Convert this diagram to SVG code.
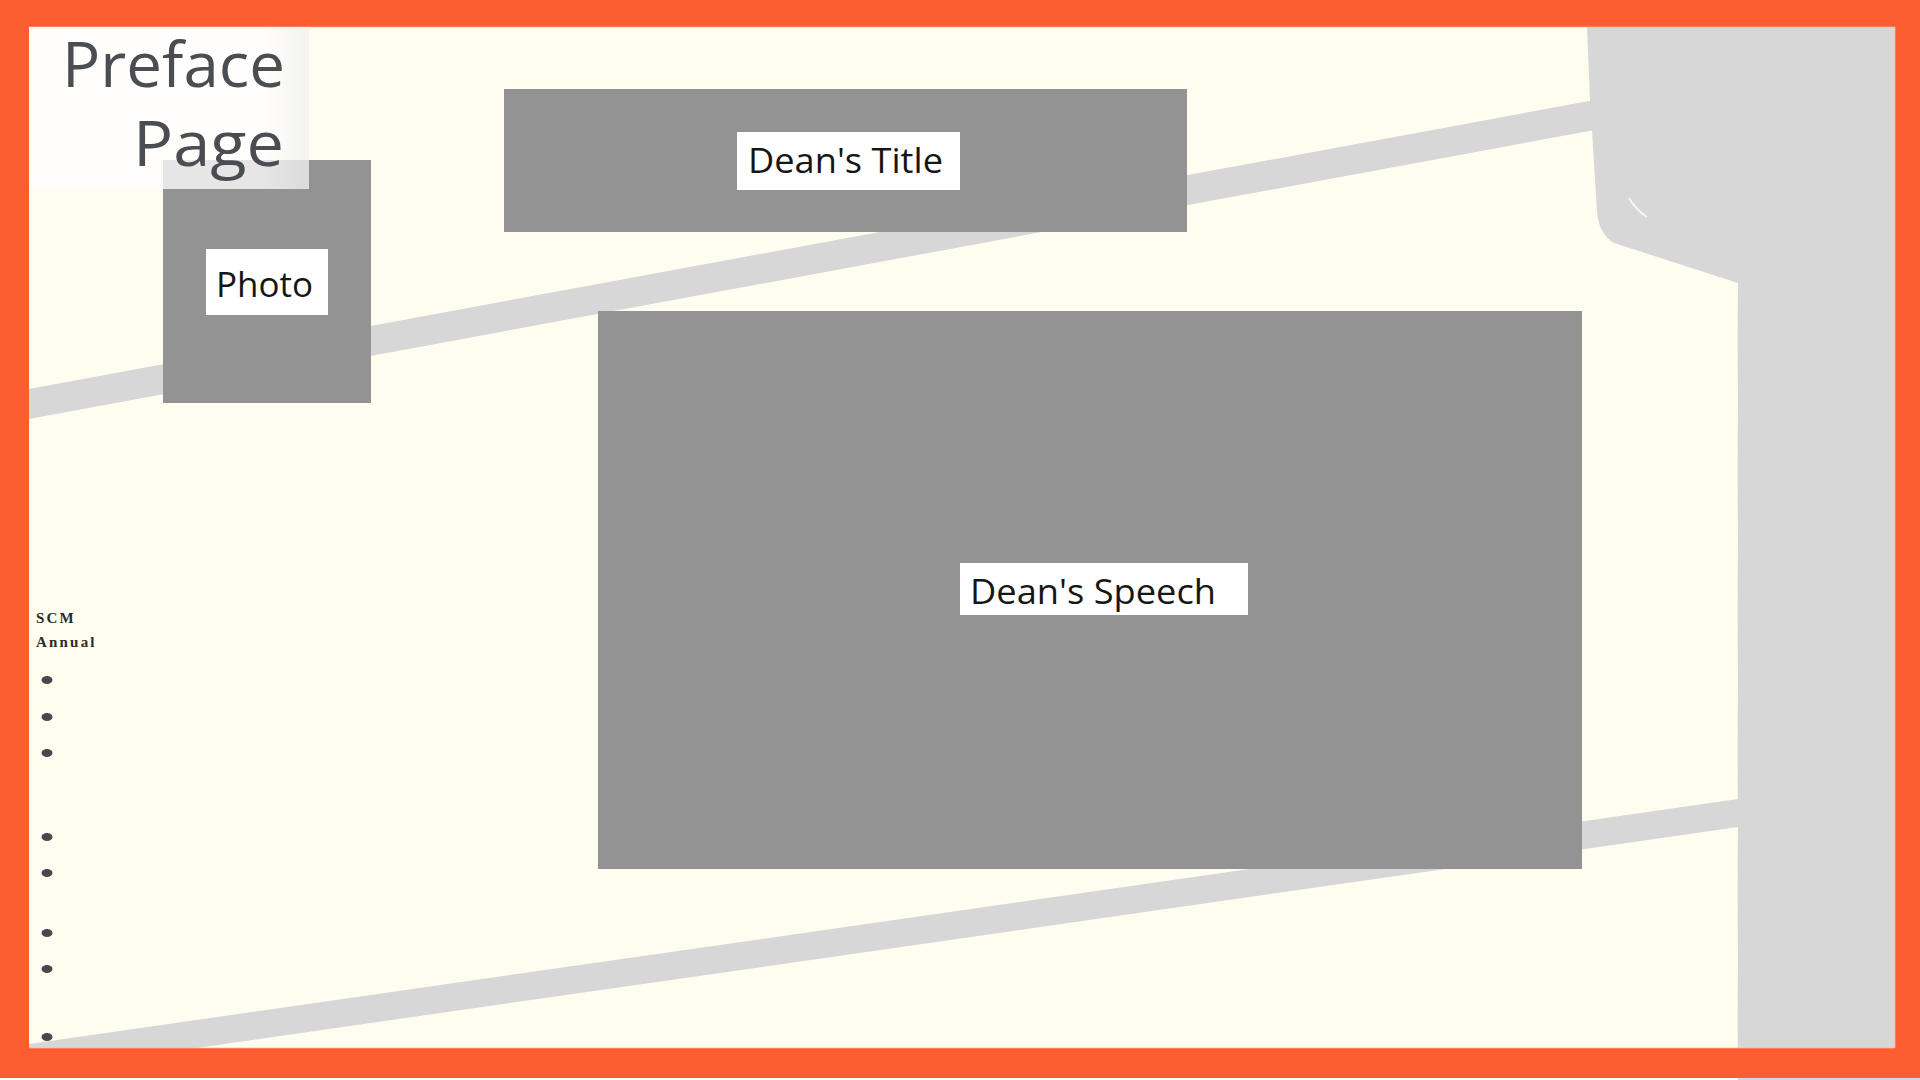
<svg xmlns="http://www.w3.org/2000/svg" width="1920" height="1080" viewBox="0 0 1920 1080">
  <defs>
    <linearGradient id="prefGrad" x1="0" y1="0" x2="1" y2="0">
      <stop offset="0" stop-color="#ffffff"/>
      <stop offset="0.82" stop-color="#ffffff"/>
      <stop offset="1" stop-color="#f1f1f1"/>
    </linearGradient>
  </defs>
  <style>
    .box { fill: #939393; }
    .label-bg { fill: #ffffff; }
    .label { font-family: "Open Sans", "Noto Sans", "Liberation Sans", sans-serif; font-size: 35px; fill: #161616; }
    .title { font-family: "Open Sans", "Noto Sans", "Liberation Sans", sans-serif; font-size: 63px; fill: #4a4e53; }
    .shadow { fill: #d7d7d7; }
    .bullet { fill: #46484b; }
    .scm { font-family: "Liberation Serif", "DejaVu Serif", serif; font-size: 15px; font-weight: bold; letter-spacing: 2.2px; fill: #2b2b2b; }
  </style>

  <!-- background -->
  <rect x="0" y="0" width="1920" height="1080" fill="#fffcf0"/>

  <!-- shadow bands -->
  <g id="shadows">
    <polygon class="shadow" points="29,389 1600,99 1600,129 29,419"/>
    <polygon class="shadow" points="29,1044 1745,798 1745,826 29,1072"/>
    <path class="shadow" d="M1587,27 L1590,100 L1592,130 L1597,212 Q1599,234 1614,243 L1738,283 Q1737.3,340 1738,400 Q1737.3,470 1738,540 Q1737.3,610 1738,680 Q1737.3,750 1738,820 Q1737.3,890 1738,960 Q1737.3,1020 1738,1080 L1920,1080 L1920,27 Z"/>
    <path d="M1629,198 Q1636,210 1647,217" fill="none" stroke="#ffffff" stroke-width="2" opacity="0.8"/>
  </g>

  <!-- frame -->
  <g id="frame">
    <path fill="#fb5d31" fill-rule="evenodd" d="M0,0 H1920 V1078 H0 Z M29,27 V1048 H1895 V27 Z"/>
    <rect x="0" y="1078" width="1738" height="2" fill="#ffffff"/>
    <rect x="29" y="26.5" width="1866" height="1" fill="#f7b8a3" opacity="0.7"/>
    <rect x="1894.5" y="27" width="1" height="1021" fill="#f7b8a3" opacity="0.7"/>
    <rect x="29" y="1047.5" width="1866" height="1" fill="#f7b8a3" opacity="0.7"/>
  </g>

  <!-- Photo -->
  <g id="node-photo">
    <rect class="box" x="163" y="160" width="208" height="243"/>
    <rect class="label-bg" x="206" y="249" width="122" height="66"/>
    <text class="label" x="216" y="297" textLength="97" lengthAdjust="spacingAndGlyphs">Photo</text>
  </g>

  <!-- Preface Page -->
  <g id="node-preface">
    <rect x="29" y="27" width="280" height="162" fill="url(#prefGrad)" opacity="0.77"/>
    <text class="title" x="285" y="87" text-anchor="end" textLength="223" lengthAdjust="spacingAndGlyphs">Preface</text>
    <text class="title" x="284" y="166" text-anchor="end" textLength="151" lengthAdjust="spacingAndGlyphs">Page</text>
  </g>

  <!-- Dean's Title -->
  <g id="node-deans-title">
    <rect class="box" x="504" y="89" width="683" height="143"/>
    <rect class="label-bg" x="737" y="132" width="223" height="58"/>
    <text class="label" x="748" y="173" textLength="195" lengthAdjust="spacingAndGlyphs">Dean's Title</text>
  </g>

  <!-- Dean's Speech -->
  <g id="node-deans-speech">
    <rect class="box" x="598" y="311" width="984" height="558"/>
    <rect class="label-bg" x="960" y="563" width="288" height="52"/>
    <text class="label" x="970" y="604" textLength="246" lengthAdjust="spacingAndGlyphs">Dean's Speech</text>
  </g>

  <!-- SCM Annual sidebar -->
  <g id="node-scm">
    <text class="scm" x="36" y="623">SCM</text>
    <text class="scm" x="36" y="647">Annual</text>
    <ellipse class="bullet" cx="47" cy="680" rx="5.5" ry="4"/>
    <ellipse class="bullet" cx="47" cy="717" rx="5.5" ry="4"/>
    <ellipse class="bullet" cx="47" cy="753" rx="5.5" ry="4"/>
    <ellipse class="bullet" cx="47" cy="837" rx="5.5" ry="4"/>
    <ellipse class="bullet" cx="47" cy="873" rx="5.5" ry="4"/>
    <ellipse class="bullet" cx="47" cy="933" rx="5.5" ry="4"/>
    <ellipse class="bullet" cx="47" cy="969" rx="5.5" ry="4"/>
    <ellipse class="bullet" cx="47" cy="1037" rx="5.5" ry="4"/>
  </g>

  <g id="connectors"/>
</svg>
